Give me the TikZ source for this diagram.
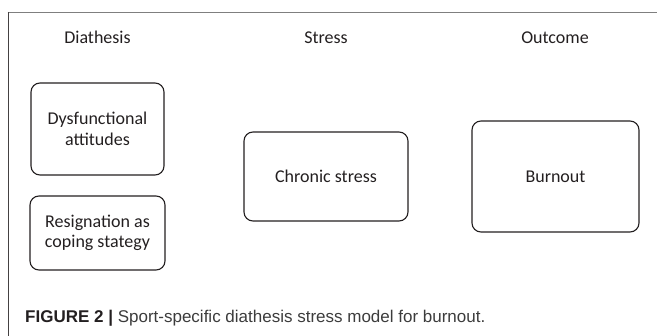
\documentclass[tikz,border=0pt]{standalone}
\usepackage{fontspec}
\setmainfont{Carlito}
\newfontfamily\capfont{Liberation Sans}
\definecolor{ink}{HTML}{231F20}
\definecolor{capgray}{HTML}{3C3C3C}
\definecolor{framegray}{HTML}{7F7F7F}
\begin{document}
\begin{tikzpicture}[x=1pt,y=-1pt,
  box/.style={draw=ink, line width=1.1pt, rounded corners=9pt, align=center,
    font=\fontsize{18}{20.5}\selectfont, text=ink, inner sep=0pt},
  head/.style={font=\fontsize{18}{20.5}\selectfont, text=ink, anchor=base, inner sep=0pt}]
\useasboundingbox (0,0) rectangle (657,336);
% frame
\draw[framegray, line width=1.4pt] (7.5,12.5) -- (657,12.5);
\draw[ink!85, line width=1pt] (8,12) -- (8,336);
% headers
\node[head] (hd) at (97.5,44) {Diathesis};
\node[head] (hs) at (326,44) {Stress};
\node[head] (ho) at (555,44) {Outcome};
% boxes
\node[box, minimum width=133pt, minimum height=92pt] (dys) at (97.5,129) {Dysfunctional\\attitudes};
\node[box, minimum width=135pt, minimum height=74pt] (res) at (97.5,233) {Resignation as\\coping stategy};
\node[box, minimum width=164pt, minimum height=89pt] (chr) at (326,176.5) {Chronic stress};
\node[box, minimum width=167pt, minimum height=111pt] (bur) at (555.5,176.5) {Burnout};
% caption
\node[anchor=base west, inner sep=0pt, font=\capfont\fontsize{17}{20}\selectfont, text=capgray] (cap) at (25,323)
  {{\bfseries\color{ink}FIGURE 2 |} Sport-specific diathesis stress model for burnout.};
\end{tikzpicture}
\end{document}
